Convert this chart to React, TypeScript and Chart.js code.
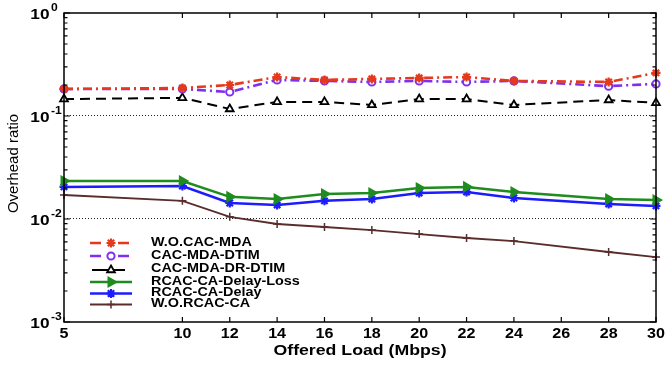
import React, { useEffect, useRef } from "react";
import { Chart, registerables } from "chart.js";
import { drawPoint } from "chart.js/helpers";

Chart.register(...registerables);

// ---------- data ----------
const offeredLoad = [5, 10, 12, 14, 16, 18, 20, 22, 24, 28, 30];
const xTickValues = [5, 10, 12, 14, 16, 18, 20, 22, 24, 26, 28, 30];
const yDecadeValues = [1, 0.1, 0.01, 0.001];
const yDecadeExponents = ["0", "-1", "-2", "-3"];
const yGridValues = [0.1, 0.01];

const seriesNames = [
  "W.O.CAC-MDA",
  "CAC-MDA-DTIM",
  "CAC-MDA-DR-DTIM",
  "RCAC-CA-Delay-Loss",
  "RCAC-CA-Delay",
  "W.O.RCAC-CA",
];

const woCacMda = [0.183, 0.187, 0.2, 0.239, 0.224, 0.229, 0.234, 0.239, 0.219, 0.214, 0.262];
const cacMdaDtim = [0.183, 0.183, 0.171, 0.224, 0.219, 0.214, 0.219, 0.214, 0.219, 0.195, 0.205];
const cacMdaDrDtim = [0.146, 0.15, 0.117, 0.137, 0.137, 0.128, 0.146, 0.146, 0.128, 0.143, 0.134];
const rcacDelayLoss = [0.0234, 0.0234, 0.0164, 0.0156, 0.0175, 0.0179, 0.02, 0.0205, 0.0183, 0.0156, 0.0153];
const rcacDelay = [0.0205, 0.0209, 0.0143, 0.0137, 0.015, 0.0156, 0.0179, 0.0183, 0.016, 0.014, 0.0134];
const woRcacCa = [0.0171, 0.015, 0.0105, 0.00894, 0.00836, 0.00781, 0.00714, 0.00654, 0.00611, 0.00478, 0.00427];

const xTitle = "Offered Load (Mbps)";
const yTitle = "Overhead ratio";

// ---------- styles ----------
const FONT = "'Liberation Sans', Arial, Helvetica, sans-serif";
const styles = [
  { color: "#e5391c", dash: [9, 4, 2, 4], ldash: [11, 17], width: 2.6, point: "star", radius: 4.5, pbw: 2.2, fill: "#e5391c", rot: 0, lx0: 90, lx1: 132 },
  { color: "#7f2ff0", dash: [9, 4, 2, 4], ldash: [11, 17], width: 2.6, point: "circle", radius: 3.6, pbw: 2, fill: "#ffffff", rot: 0, lx0: 90, lx1: 132 },
  { color: "#000000", dash: [10, 6], ldash: [], width: 2, point: "triangle", radius: 4.5, pbw: 1.8, fill: "#ffffff", rot: 0, lx0: 92, lx1: 125 },
  { color: "#1f8c1f", dash: [], ldash: [], width: 2.5, point: "triangle", radius: 5.5, pbw: 1.5, fill: "#1f8c1f", rot: 90, lx0: 90, lx1: 132 },
  { color: "#1c1cff", dash: [], ldash: [], width: 2.5, point: "star", radius: 4.5, pbw: 2.2, fill: "#1c1cff", rot: 0, lx0: 90, lx1: 132 },
  { color: "#5a2c2c", dash: [], ldash: [], width: 1.8, point: "cross", radius: 4, pbw: 1.5, fill: "#5a2c2c", rot: 0, lx0: 90, lx1: 132 },
];
const legendLineRows = [243, 256, 270, 282, 293.5, 304.5];
const legendTextRows = [243, 256, 269, 281.5, 293, 304];

function sText(ctx: CanvasRenderingContext2D, text: string, x: number, y: number, font: string, align: CanvasTextAlign, sx: number) {
  ctx.save();
  ctx.font = font;
  ctx.textAlign = align;
  ctx.textBaseline = "middle";
  ctx.fillStyle = "#000";
  ctx.translate(x, y);
  ctx.scale(sx, 1);
  ctx.fillText(text, 0, 0);
  ctx.restore();
}

const axesPlugin = {
  id: "matlabAxes",
  beforeDatasetsDraw(chart: any) {
    const { ctx, chartArea: a, scales } = chart;
    const y = scales.y;
    ctx.save();
    ctx.strokeStyle = "#222";
    ctx.lineWidth = 1;
    ctx.setLineDash([1, 2]);
    yGridValues.forEach((v) => {
      const py = Math.round(y.getPixelForValue(v)) - 0.5;
      ctx.beginPath();
      ctx.moveTo(a.left, py);
      ctx.lineTo(a.right, py);
      ctx.stroke();
    });
    ctx.restore();
  },
  afterDatasetsDraw(chart: any) {
    const { ctx, chartArea: a, scales } = chart;
    const x = scales.x;
    const y = scales.y;
    ctx.save();
    ctx.strokeStyle = "#000";
    ctx.lineWidth = 1.5;
    ctx.setLineDash([]);
    ctx.strokeRect(a.left, a.top, a.right - a.left, a.bottom - a.top);

    // x ticks (inward, top and bottom)
    ctx.lineWidth = 1.2;
    xTickValues.forEach((v) => {
      const px = x.getPixelForValue(v);
      ctx.beginPath();
      ctx.moveTo(px, a.bottom);
      ctx.lineTo(px, a.bottom - 5);
      ctx.moveTo(px, a.top);
      ctx.lineTo(px, a.top + 5);
      ctx.stroke();
    });
    // y ticks major + minor
    for (let e = -3; e <= 0; e++) {
      const base = Math.pow(10, e);
      const py = y.getPixelForValue(base);
      ctx.beginPath();
      ctx.moveTo(a.left, py);
      ctx.lineTo(a.left + 6, py);
      ctx.moveTo(a.right, py);
      ctx.lineTo(a.right - 6, py);
      ctx.stroke();
      if (e < 0) {
        for (let m = 2; m <= 9; m++) {
          const pm = y.getPixelForValue(base * m);
          ctx.beginPath();
          ctx.moveTo(a.left, pm);
          ctx.lineTo(a.left + 3.5, pm);
          ctx.moveTo(a.right, pm);
          ctx.lineTo(a.right - 3.5, pm);
          ctx.stroke();
        }
      }
    }
    ctx.restore();

    // tick labels
    xTickValues.forEach((v) => {
      sText(ctx, String(v), x.getPixelForValue(v), a.bottom + 12.5, `bold 14px ${FONT}`, "center", 1.15);
    });
    yDecadeValues.forEach((v, i) => {
      const py = y.getPixelForValue(v);
      sText(ctx, "10", a.left - 14.5, py + 1.5, `bold 15px ${FONT}`, "right", 1.15);
      sText(ctx, yDecadeExponents[i], a.left - 13, py - 5, `bold 11px ${FONT}`, "left", 1.1);
    });

    // titles
    sText(ctx, xTitle, (a.left + a.right) / 2, a.bottom + 29, `bold 15px ${FONT}`, "center", 1.18);
    ctx.save();
    ctx.translate(14, (a.top + a.bottom) / 2 - 4);
    ctx.rotate(-Math.PI / 2);
    ctx.font = `15px ${FONT}`;
    ctx.textAlign = "center";
    ctx.textBaseline = "middle";
    ctx.fillStyle = "#000";
    ctx.fillText(yTitle, 0, 0);
    ctx.restore();

    // legend
    seriesNames.forEach((name, i) => {
      const s = styles[i];
      const ly = legendLineRows[i];
      ctx.save();
      ctx.strokeStyle = s.color;
      ctx.lineWidth = s.width;
      ctx.setLineDash(s.ldash);
      ctx.beginPath();
      ctx.moveTo(s.lx0, ly);
      ctx.lineTo(s.lx1, ly);
      ctx.stroke();
      ctx.setLineDash([]);
      ctx.lineWidth = s.pbw;
      ctx.fillStyle = s.fill;
      drawPoint(ctx, { pointStyle: s.point as any, rotation: s.rot, radius: s.radius, borderWidth: s.pbw }, 111, ly);
      ctx.restore();
      sText(ctx, name, 151, legendTextRows[i], `bold 12px ${FONT}`, "left", 1.2);
    });
  },
};

const seriesValues = [woCacMda, cacMdaDtim, cacMdaDrDtim, rcacDelayLoss, rcacDelay, woRcacCa];

export default function App() {
  const ref = useRef<HTMLCanvasElement | null>(null);
  useEffect(() => {
    document.body.style.margin = "0";
    const canvas = ref.current;
    if (!canvas) return;
    const chart = new Chart(canvas, {
      type: "line",
      data: {
        datasets: seriesNames.map((name, i) => {
          const s = styles[i];
          return {
            label: name,
            data: offeredLoad.map((xv, k) => ({ x: xv, y: seriesValues[i][k] })),
            borderColor: s.color,
            backgroundColor: s.fill,
            borderWidth: s.width,
            borderDash: s.dash,
            pointStyle: s.point as any,
            pointRadius: s.radius,
            pointBorderWidth: s.pbw,
            pointBorderColor: s.color,
            pointBackgroundColor: s.fill,
            pointRotation: s.rot,
            tension: 0,
            fill: false,
            clip: false as any,
          };
        }),
      },
      options: {
        animation: false,
        responsive: false,
        maintainAspectRatio: false,
        devicePixelRatio: 1,
        layout: { padding: { left: 64, right: 9, top: 13, bottom: 43 } },
        plugins: { legend: { display: false }, tooltip: { enabled: false } },
        scales: {
          x: { type: "linear", min: 5, max: 30, display: false },
          y: { type: "logarithmic", min: 0.001, max: 1, display: false },
        },
      },
      plugins: [axesPlugin],
    });
    return () => chart.destroy();
  }, []);
  return (
    <div style={{ width: 665, height: 365, background: "#fff" }}>
      <canvas ref={ref} width={665} height={365} style={{ display: "block", width: 665, height: 365 }} />
    </div>
  );
}
